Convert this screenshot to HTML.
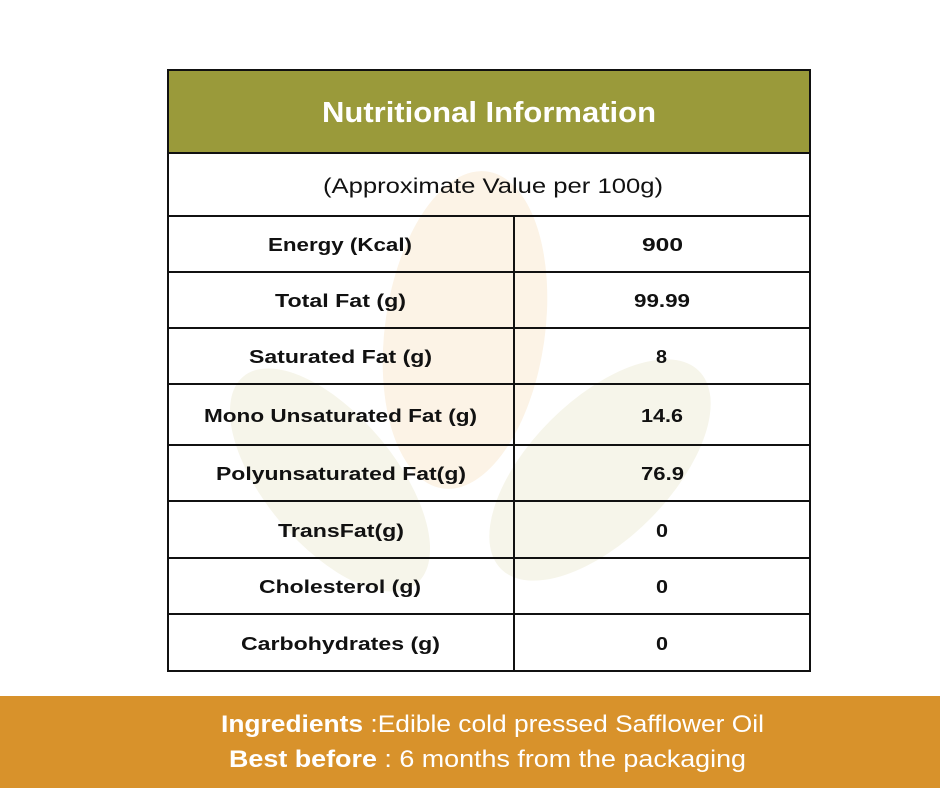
<!DOCTYPE html>
<html><head><style>
body{margin:0;width:940px;height:788px;background:#fff;position:relative;overflow:hidden;font-family:"Liberation Sans",sans-serif}
.a{position:absolute}
</style></head><body>
<svg class="a" style="left:0;top:0" width="940" height="788">
<ellipse cx="465" cy="330" rx="80" ry="160" fill="#fcf3e6" transform="rotate(8 465 330)"/>
<ellipse cx="600" cy="470" rx="70" ry="140" fill="#f6f5ea" transform="rotate(45 600 470)"/>
<ellipse cx="330" cy="480" rx="65" ry="135" fill="#f6f5ea" transform="rotate(-40 330 480)"/>
<rect x="168" y="70" width="642" height="83" fill="#9a9a3a"/>
<g stroke="#111" stroke-width="2" fill="none">
<rect x="168" y="70" width="642" height="601"/>
<line x1="168" y1="153" x2="810" y2="153"/>
<line x1="168" y1="216" x2="810" y2="216"/>
<line x1="168" y1="272" x2="810" y2="272"/>
<line x1="168" y1="328" x2="810" y2="328"/>
<line x1="168" y1="384" x2="810" y2="384"/>
<line x1="168" y1="445" x2="810" y2="445"/>
<line x1="168" y1="501" x2="810" y2="501"/>
<line x1="168" y1="558" x2="810" y2="558"/>
<line x1="168" y1="614" x2="810" y2="614"/>
<line x1="514" y1="216" x2="514" y2="671"/>
</g>
<g lengthAdjust="spacingAndGlyphs" font-family="Liberation Sans">
<text x="322" y="122" textLength="334" lengthAdjust="spacingAndGlyphs" font-size="29" font-weight="bold" fill="#fff">Nutritional Information</text>
<text x="323" y="193" textLength="340" lengthAdjust="spacingAndGlyphs" font-size="21" fill="#111">(Approximate Value per 100g)</text>
</g>
<g font-size="18" font-weight="bold" fill="#111" font-family="Liberation Sans">
<text x="268" y="251" textLength="144" lengthAdjust="spacingAndGlyphs">Energy (Kcal)</text><text x="642" y="251" textLength="41" lengthAdjust="spacingAndGlyphs">900</text>
<text x="275" y="307" textLength="131" lengthAdjust="spacingAndGlyphs">Total Fat (g)</text><text x="634" y="307" textLength="56" lengthAdjust="spacingAndGlyphs">99.99</text>
<text x="249" y="363" textLength="183" lengthAdjust="spacingAndGlyphs">Saturated Fat (g)</text><text x="656" y="363" textLength="11" lengthAdjust="spacingAndGlyphs">8</text>
<text x="204" y="422" textLength="273" lengthAdjust="spacingAndGlyphs">Mono Unsaturated Fat (g)</text><text x="641" y="422" textLength="42" lengthAdjust="spacingAndGlyphs">14.6</text>
<text x="216" y="480" textLength="250" lengthAdjust="spacingAndGlyphs">Polyunsaturated Fat(g)</text><text x="641" y="480" textLength="43" lengthAdjust="spacingAndGlyphs">76.9</text>
<text x="278" y="537" textLength="126" lengthAdjust="spacingAndGlyphs">TransFat(g)</text><text x="656" y="537" textLength="12" lengthAdjust="spacingAndGlyphs">0</text>
<text x="259" y="593" textLength="162" lengthAdjust="spacingAndGlyphs">Cholesterol (g)</text><text x="656" y="593" textLength="12" lengthAdjust="spacingAndGlyphs">0</text>
<text x="241" y="650" textLength="199" lengthAdjust="spacingAndGlyphs">Carbohydrates (g)</text><text x="656" y="650" textLength="12" lengthAdjust="spacingAndGlyphs">0</text>
</g>
<rect x="0" y="696" width="940" height="92" fill="#d8922b"/>
<g font-size="24" fill="#fff" font-family="Liberation Sans">
<text x="221" y="732" textLength="543" lengthAdjust="spacingAndGlyphs"><tspan font-weight="bold">Ingredients</tspan> :Edible cold pressed Safflower Oil</text>
<text x="229" y="767" textLength="517" lengthAdjust="spacingAndGlyphs"><tspan font-weight="bold">Best before</tspan> : 6 months from the packaging</text>
</g>
</svg>
</body></html>
